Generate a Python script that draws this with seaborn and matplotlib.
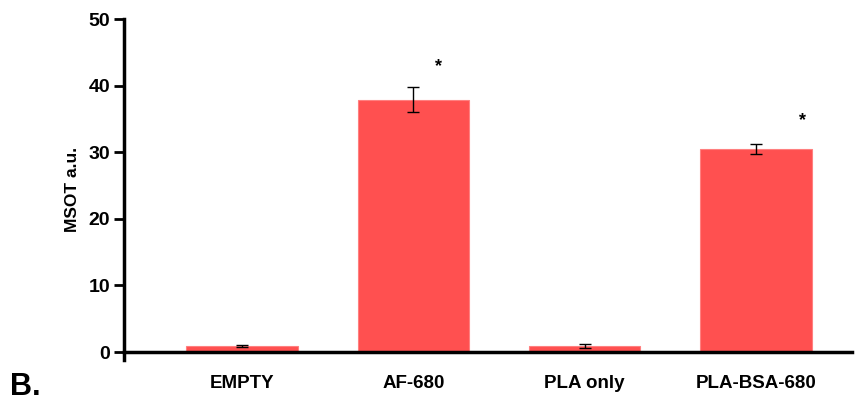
import pandas as pd
import matplotlib.pyplot as plt
import seaborn as sns

groups = ["EMPTY", "AF-680", "PLA only", "PLA-BSA-680"]
msot = [0.9, 37.9, 0.9, 30.5]
err = [0.1, 1.9, 0.25, 0.8]
star_groups = ["AF-680", "PLA-BSA-680"]
star_y = [42.9, 34.8]

df = pd.DataFrame({"group": groups, "msot": msot, "err": err})

sns.set_style("white")
plt.rcParams["font.family"] = ["Liberation Sans", "DejaVu Sans"]
plt.rcParams["text.color"] = "black"
plt.rcParams["xtick.color"] = "black"
plt.rcParams["ytick.color"] = "black"
plt.rcParams["axes.labelcolor"] = "black"

fig = plt.figure(figsize=(8.64, 4.05), dpi=100)
ax = fig.add_axes([0.1435, 0.111, 0.8425, 0.842])

sns.barplot(data=df, x="group", y="msot", color="#ff5050", saturation=1,
            width=0.65, errorbar=None, ax=ax, edgecolor="#ff8080", linewidth=0.8)
ax.errorbar(range(len(groups)), df["msot"], yerr=df["err"],
            fmt="none", ecolor="black", elinewidth=1, capsize=4, capthick=1)

# significance markers, slightly right of bar centre
for g, y, dx in zip(star_groups, star_y, [0.145, 0.27]):
    i = groups.index(g)
    ax.text(i + dx, y, "*", ha="center", va="center", fontsize=13, fontweight="bold")

ax.set_xlim(-0.69, 3.56)
ax.set_ylim(-1.2, 50)
ax.set_yticks([0, 10, 20, 30, 40, 50])
ax.spines["bottom"].set_position(("data", 0))
for s in ["top", "right"]:
    ax.spines[s].set_visible(False)
for s in ["left", "bottom"]:
    ax.spines[s].set_linewidth(2.5)
    ax.spines[s].set_color("black")

ax.tick_params(axis="y", left=True, direction="out", length=7, width=2,
               labelsize=14, pad=3)
ax.tick_params(axis="x", bottom=False, labelsize=13.5, pad=13)
for lab in ax.get_xticklabels() + ax.get_yticklabels():
    lab.set_fontweight("bold")

ax.set_xlabel("")
ax.set_ylabel("MSOT a.u.", fontsize=12.5, fontweight="bold", labelpad=6)

fig.text(0.012, 0.025, "B.", fontsize=22, fontweight="bold")

fig.savefig("out.png", dpi=100)
